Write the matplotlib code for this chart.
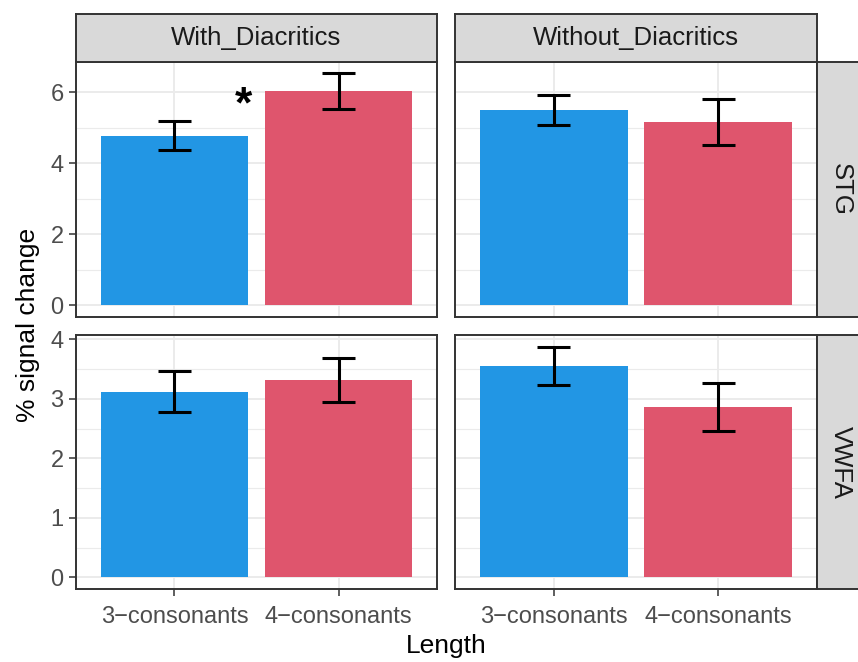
import matplotlib.pyplot as plt
from matplotlib.ticker import FixedLocator

plt.rcParams['font.family'] = ['Liberation Sans', 'DejaVu Sans']

# facet levels
columns = ['With_Diacritics', 'Without_Diacritics']
rows = ['STG', 'VWFA']
lengths = ['3\u2212consonants', '4\u2212consonants']

# mean % signal change and standard error, [row][column][length]
means = {
    'STG': {'With_Diacritics': [4.78, 6.04], 'Without_Diacritics': [5.51, 5.17]},
    'VWFA': {'With_Diacritics': [3.12, 3.32], 'Without_Diacritics': [3.56, 2.87]},
}
errors = {
    'STG': {'With_Diacritics': [0.41, 0.50], 'Without_Diacritics': [0.42, 0.64]},
    'VWFA': {'With_Diacritics': [0.345, 0.375], 'Without_Diacritics': [0.32, 0.405]},
}
row_ticks = {'STG': [0, 2, 4, 6], 'VWFA': [0, 1, 2, 3, 4]}
# significance marker
star_row, star_col, star_x, star_y = 'STG', 'With_Diacritics', 1.42, 5.62

bar_colors = ['#2296E4', '#DF556D']
grid_col = '#EBEBEB'
frame_col = '#333333'

W, H = 858, 662
fig = plt.figure(figsize=(W / 100, H / 100), dpi=100)

px = lambda x0, y0, x1, y1: [x0 / W, 1 - y1 / H, (x1 - x0) / W, (y1 - y0) / H]
col_x = [(76, 437), (455, 817)]
row_y = [(61.5, 317), (335, 589)]

for ri, r in enumerate(rows):
    top = max(m + e for c in columns for m, e in zip(means[r][c], errors[r][c]))
    pad = 0.05 * top
    for ci, c in enumerate(columns):
        ax = fig.add_axes(px(col_x[ci][0], row_y[ri][0], col_x[ci][1], row_y[ri][1]))
        xs = [1, 2]
        ax.bar(xs, means[r][c], width=0.9, color=bar_colors, zorder=2)
        lo = [m - e for m, e in zip(means[r][c], errors[r][c])]
        hi = [m + e for m, e in zip(means[r][c], errors[r][c])]
        ax.vlines(xs, lo, hi, color='black', lw=2.2, zorder=3)
        for x in xs:
            ax.hlines([lo[x - 1], hi[x - 1]], x - 0.1, x + 0.1, color='black', lw=2.2, zorder=3)
        ax.set_xlim(0.4, 2.6)
        ax.set_ylim(-pad, top + pad)
        ticks = row_ticks[r]
        minors = [(a + b) / 2 for a, b in zip(ticks[:-1], ticks[1:])]
        ax.yaxis.set_major_locator(FixedLocator(ticks))
        ax.yaxis.set_minor_locator(FixedLocator(minors))
        ax.set_xticks(xs)
        ax.grid(True, which='major', color=grid_col, lw=1.4, zorder=0)
        ax.grid(True, which='minor', axis='y', color=grid_col, lw=0.8, zorder=0)
        ax.set_axisbelow(True)
        for s in ax.spines.values():
            s.set_color(frame_col)
            s.set_linewidth(1.4)
        ax.tick_params(which='minor', length=0)
        ax.tick_params(which='major', length=5, width=1.1, color=frame_col,
                       labelcolor='#4D4D4D', labelsize=17, pad=4)
        if ci == 0:
            ax.set_yticklabels([str(t) for t in ticks])
        else:
            ax.tick_params(axis='y', length=0, labelleft=False)
        if ri == len(rows) - 1:
            ax.set_xticklabels(lengths)
            ax.tick_params(axis='x', pad=7)
        else:
            ax.tick_params(axis='x', length=0, labelbottom=False)
        if r == star_row and c == star_col:
            ax.text(star_x, star_y, '*', fontsize=32, fontweight='bold',
                    ha='center', va='center')

        # column strips
        if ri == 0:
            st = fig.add_axes(px(col_x[ci][0], 14, col_x[ci][1], 61.5))
            st.set_facecolor('#D9D9D9')
            st.set_xticks([])
            st.set_yticks([])
            for s in st.spines.values():
                s.set_color(frame_col)
                s.set_linewidth(1.4)
            st.text(0.5, 0.5, c, transform=st.transAxes, ha='center', va='center',
                    fontsize=18.5, color='#1A1A1A')
    # row strip
    st = fig.add_axes(px(817, row_y[ri][0], 864, row_y[ri][1]))
    st.set_facecolor('#D9D9D9')
    st.set_xticks([])
    st.set_yticks([])
    for s in st.spines.values():
        s.set_color(frame_col)
        s.set_linewidth(1.4)
    st.text(0.5, 0.5, r, transform=st.transAxes, ha='center', va='center',
            rotation=-90, fontsize=18.5, color='#1A1A1A')

fig.text(446 / W, 1 - 646 / H, 'Length', ha='center', va='center', fontsize=19)
fig.text(28 / W, 1 - 325 / H, '% signal change', ha='center', va='center',
         rotation=90, fontsize=19)

fig.savefig('out.png', dpi=100)
